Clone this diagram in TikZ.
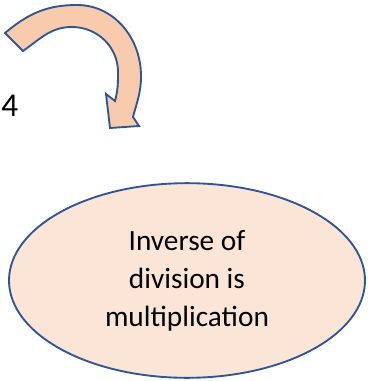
\documentclass[tikz,border=0pt]{standalone}
\usepackage{fontspec}
\setmainfont{Carlito}
\usetikzlibrary{shapes.geometric}
\definecolor{edgeblue}{HTML}{2F5597}
\definecolor{peach}{HTML}{F8CBAD}
\definecolor{lightpeach}{HTML}{FBE5D6}
\begin{document}
\begin{tikzpicture}[
    x=0.75pt, y=-0.75pt,
    bubble/.style={ellipse, draw=edgeblue, fill=lightpeach, line width=1.4pt, minimum width=267pt, minimum height=146pt, inner sep=0pt, align=center, font=\fontsize{22}{28.5}\selectfont},
    bigarrow/.style={draw=edgeblue, fill=peach, line width=1.4pt, line join=miter},
]
\useasboundingbox (0,0) rectangle (367,381);
% curved arrow
\draw[bigarrow] (5,33) to[out=40,in=180] (77,5) to[out=0,in=90] (141,76)
    to[out=-90,in=75] (133,117) -- (139,126) -- (110,128) -- (106,94) -- (115,101)
    to[out=75,in=-90] (118,72) to[out=90,in=0] (72,27) to[out=180,in=35] (23,51) -- cycle;
\node[font=\fontsize{25}{28}\selectfont, anchor=west, inner sep=0pt] (four) at (1,106) {4};
\node[bubble] (inv) at (187,280.5) {Inverse of\\division is\\multiplication};
\end{tikzpicture}
\end{document}
